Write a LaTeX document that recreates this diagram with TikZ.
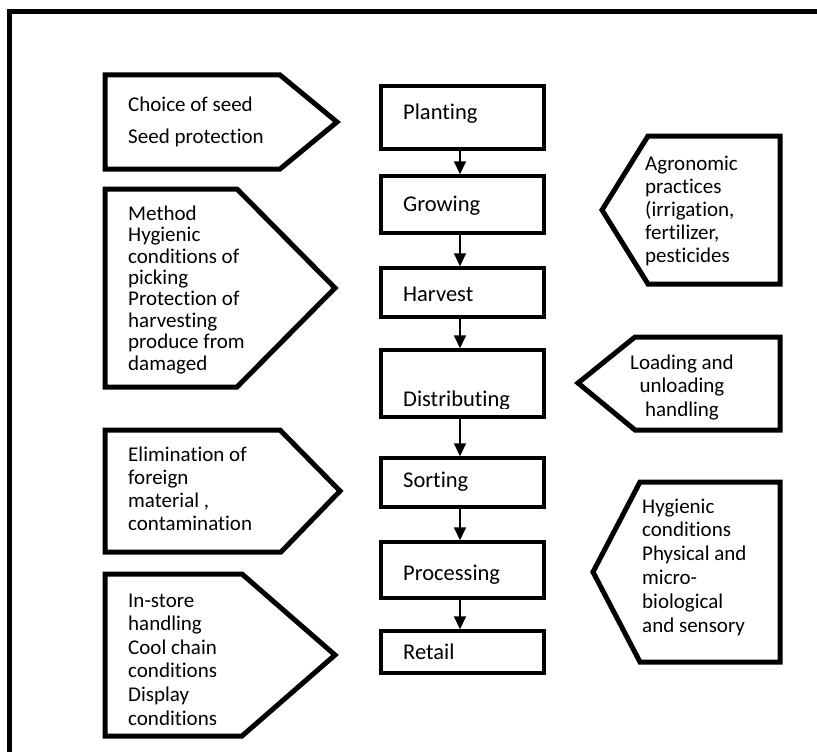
\documentclass[tikz,border=0pt]{standalone}
\usepackage{fontspec}
\setmainfont{Carlito}[Ligatures=NoCommon]
\usetikzlibrary{arrows.meta}
\begin{document}
\begin{tikzpicture}[x=1pt,y=-1pt,
  stagebox/.style={draw, line width=3.5pt, minimum width=163pt, inner sep=0pt},
  stagetext/.style={font=\fontsize{22.5}{27}\selectfont, inner sep=0pt, anchor=base west},
  sidebox/.style={draw, line width=5pt, line join=miter},
  sidetext/.style={font=\fontsize{21}{23}\selectfont, inner sep=0pt, anchor=base west, align=left},
  flow/.style={line width=2pt, -{Triangle[width=12pt,length=13pt]}},
  frameline/.style={line width=5pt, line join=miter}
]
\useasboundingbox (0,0) rectangle (817,752);
\draw[frameline] (9.5,752) -- (9.5,11.5) -- (817,11.5);

% central stages
\node[stagebox, minimum height=63pt] (planting) at (462.5,117.5) {};
\node[stagebox, minimum height=57pt] (growing) at (462.5,204.5) {};
\node[stagebox, minimum height=49pt] (harvest) at (462.5,292.5) {};
\node[stagebox, minimum height=67pt] (distributing) at (462.5,383.5) {};
\node[stagebox, minimum height=49pt] (sorting) at (462.5,482.5) {};
\node[stagebox, minimum height=56pt] (processing) at (462.5,570) {};
\node[stagebox, minimum height=42pt] (retail) at (462.5,652) {};

\node[stagetext] (tplanting) at (403,119) {Planting};
\node[stagetext] (tgrowing) at (403,211) {Growing};
\node[stagetext] (tharvest) at (403,301) {Harvest};
\begin{scope}
\clip (381,350) rectangle (544,408);
\node[stagetext] (tdistributing) at (403,406) {Distributing};
\end{scope}
\begin{scope}
\clip (381,458) rectangle (544,490);
\node[stagetext] (tsorting) at (403,487) {Sorting};
\end{scope}
\node[stagetext] (tprocessing) at (403,580) {Processing};
\node[stagetext] (tretail) at (403,659) {Retail};

\coordinate (ax) at (460,0);
\draw[flow] (planting.south -| ax) -- (growing.north -| ax);
\draw[flow] (growing.south -| ax) -- (harvest.north -| ax);
\draw[flow] (harvest.south -| ax) -- (distributing.north -| ax);
\draw[flow] (distributing.south -| ax) -- (sorting.north -| ax);
\draw[flow] (sorting.south -| ax) -- (processing.north -| ax);
\draw[flow] (processing.south -| ax) -- (retail.north -| ax);

% left pentagons
\draw[sidebox] (105,75) -- (280,75) -- (337,122) -- (280,169) -- (105,169) -- cycle;
\draw[sidebox] (105,189) -- (237,189) -- (335,288) -- (237,387) -- (105,387) -- cycle;
\draw[sidebox] (105,430) -- (280,430) -- (340,491) -- (281,552) -- (105,552) -- cycle;
\draw[sidebox] (105,574) -- (242,574) -- (335,655) -- (242,736) -- (105,736) -- cycle;

% right pentagons
\draw[sidebox] (780,136) -- (648,136) -- (602,210) -- (648,284) -- (780,284) -- cycle;
\draw[sidebox] (780,337) -- (635,337) -- (578,383) -- (635,430) -- (780,430) -- cycle;
\draw[sidebox] (780,482) -- (640,482) -- (593,572) -- (640,662) -- (780,662) -- cycle;

% texts (base anchor = baseline of the last line)
\node[sidetext] (seed) at (128,143) {Choice of seed\\[9pt]Seed protection};
\node[sidetext, font=\fontsize{21}{21.4}\selectfont] (method) at (128,370) {Method\\Hygienic\\conditions of\\picking\\Protection of\\harvesting\\produce from\\damaged};
\node[sidetext] (elim) at (128,530) {Elimination of\\foreign\\material ,\\contamination};
\node[sidetext, font=\fontsize{21}{23.6}\selectfont] (instore) at (128,725) {In-store\\handling\\Cool chain\\conditions\\Display\\conditions};
\node[sidetext] (agro) at (645,262) {Agronomic\\practices\\(irrigation,\\fertilizer,\\pesticides};
\node[sidetext, font=\fontsize{21}{23.5}\selectfont, align=center, anchor=base] (load) at (682,416) {Loading and\\unloading\\handling};
\node[sidetext, font=\fontsize{21}{23.8}\selectfont] (hyg) at (642,632) {Hygienic\\conditions\\Physical and\\micro-\\biological\\and sensory};
\end{tikzpicture}
\end{document}
